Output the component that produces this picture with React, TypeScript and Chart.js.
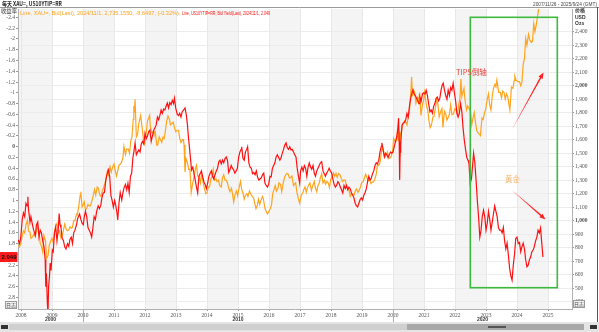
import React, { useEffect, useRef } from 'react';
import { Chart, registerables } from 'chart.js';
Chart.register(...registerables);

// ---- data: [decimal year, value] ----
const tipsSeries: number[][] = [
  [2007.91, 1.73], [2007.95, 1.80], [2007.99, 1.70], [2008.04, 1.35], [2008.08, 1.23], [2008.12, 1.30], [2008.16, 1.05],
  [2008.20, 1.10], [2008.22, 0.93], [2008.24, 1.15], [2008.29, 1.40], [2008.32, 1.30], [2008.37, 1.45], [2008.41, 1.55],
  [2008.46, 1.65], [2008.50, 1.45], [2008.54, 1.40], [2008.58, 1.68], [2008.62, 1.55], [2008.66, 1.60], [2008.70, 1.75],
  [2008.74, 1.85], [2008.78, 2.10], [2008.80, 2.60], [2008.82, 2.35], [2008.85, 2.90], [2008.87, 3.10], [2008.89, 2.60],
  [2008.92, 2.40], [2008.94, 2.16], [2008.97, 2.30], [2009.01, 1.92], [2009.04, 1.95], [2009.08, 1.60], [2009.12, 1.49],
  [2009.16, 1.75], [2009.20, 1.55], [2009.23, 1.24], [2009.26, 1.45], [2009.29, 1.50], [2009.32, 1.68], [2009.37, 1.75],
  [2009.41, 1.86], [2009.45, 1.90], [2009.50, 1.80], [2009.54, 1.85], [2009.58, 1.72], [2009.62, 1.68], [2009.66, 1.80],
  [2009.70, 1.60], [2009.74, 1.55], [2009.79, 1.45], [2009.82, 1.35], [2009.85, 1.30], [2009.89, 1.25], [2009.93, 1.35],
  [2009.97, 1.42], [2010.01, 1.45], [2010.04, 1.30], [2010.08, 1.20], [2010.12, 1.30], [2010.16, 1.50], [2010.20, 1.55],
  [2010.24, 1.60], [2010.28, 1.68], [2010.32, 1.50], [2010.36, 1.30], [2010.40, 1.35], [2010.44, 1.20], [2010.49, 1.10],
  [2010.53, 1.15], [2010.57, 1.10], [2010.61, 0.95], [2010.65, 0.86], [2010.69, 0.85], [2010.74, 0.60], [2010.78, 0.50],
  [2010.82, 0.43], [2010.86, 0.55], [2010.90, 0.90], [2010.94, 1.00], [2010.98, 1.12], [2011.02, 1.00], [2011.06, 1.10],
  [2011.10, 1.25], [2011.12, 1.36], [2011.16, 1.05], [2011.20, 0.85], [2011.25, 0.99], [2011.29, 0.85], [2011.33, 0.75],
  [2011.37, 0.70], [2011.41, 0.80], [2011.45, 0.68], [2011.49, 0.85], [2011.53, 0.55], [2011.57, 0.49], [2011.61, 0.20],
  [2011.64, 0.10], [2011.68, -0.07], [2011.72, 0.15], [2011.76, 0.10], [2011.80, 0.06], [2011.84, 0.10], [2011.88, -0.05],
  [2011.92, -0.10], [2011.96, -0.05], [2012.00, -0.25], [2012.04, -0.15], [2012.08, -0.20], [2012.12, -0.28], [2012.16, -0.31],
  [2012.20, -0.10], [2012.24, -0.20], [2012.28, -0.30], [2012.32, -0.35], [2012.36, -0.40], [2012.40, -0.55], [2012.44, -0.50],
  [2012.48, -0.58], [2012.52, -0.68], [2012.56, -0.62], [2012.60, -0.70], [2012.64, -0.68], [2012.68, -0.75], [2012.72, -0.81],
  [2012.76, -0.72], [2012.80, -0.82], [2012.84, -0.78], [2012.88, -0.86], [2012.92, -0.80], [2012.95, -0.90], [2012.99, -0.72],
  [2013.04, -0.60], [2013.08, -0.58], [2013.12, -0.62], [2013.16, -0.55], [2013.20, -0.65], [2013.24, -0.68], [2013.29, -0.72],
  [2013.33, -0.60], [2013.37, -0.40], [2013.40, -0.18], [2013.44, 0.05], [2013.48, 0.30], [2013.50, 0.43], [2013.54, 0.38],
  [2013.58, 0.50], [2013.62, 0.62], [2013.66, 0.75], [2013.70, 0.86], [2013.74, 0.55], [2013.78, 0.50], [2013.82, 0.45],
  [2013.86, 0.56], [2013.90, 0.65], [2013.94, 0.70], [2013.98, 0.78], [2014.02, 0.68], [2014.06, 0.55], [2014.10, 0.50],
  [2014.14, 0.45], [2014.18, 0.55], [2014.22, 0.60], [2014.26, 0.52], [2014.30, 0.45], [2014.34, 0.40], [2014.38, 0.28],
  [2014.42, 0.25], [2014.46, 0.32], [2014.50, 0.25], [2014.54, 0.30], [2014.58, 0.22], [2014.62, 0.19], [2014.66, 0.25],
  [2014.70, 0.48], [2014.74, 0.43], [2014.78, 0.35], [2014.82, 0.40], [2014.86, 0.43], [2014.90, 0.49], [2014.94, 0.45],
  [2014.98, 0.40], [2015.02, 0.20], [2015.06, 0.10], [2015.10, 0.05], [2015.12, 0.00], [2015.16, 0.22], [2015.20, 0.25],
  [2015.24, 0.10], [2015.28, 0.05], [2015.31, 0.00], [2015.35, 0.30], [2015.39, 0.38], [2015.43, 0.40], [2015.47, 0.50],
  [2015.51, 0.48], [2015.55, 0.52], [2015.59, 0.45], [2015.63, 0.56], [2015.67, 0.62], [2015.71, 0.60], [2015.75, 0.58],
  [2015.79, 0.52], [2015.83, 0.49], [2015.87, 0.68], [2015.91, 0.72], [2015.95, 0.75], [2015.99, 0.70], [2016.03, 0.55],
  [2016.07, 0.56], [2016.11, 0.40], [2016.15, 0.35], [2016.19, 0.30], [2016.23, 0.19], [2016.27, 0.15], [2016.31, 0.20],
  [2016.35, 0.25], [2016.39, 0.20], [2016.43, 0.12], [2016.47, 0.05], [2016.51, -0.03], [2016.55, -0.07], [2016.59, 0.02],
  [2016.63, 0.05], [2016.67, 0.00], [2016.71, 0.06], [2016.75, 0.05], [2016.79, 0.10], [2016.83, 0.15], [2016.87, 0.19],
  [2016.91, 0.40], [2016.95, 0.55], [2016.99, 0.68], [2017.02, 0.45], [2017.06, 0.38], [2017.10, 0.45], [2017.14, 0.35],
  [2017.18, 0.40], [2017.22, 0.55], [2017.26, 0.38], [2017.30, 0.30], [2017.34, 0.38], [2017.38, 0.42], [2017.42, 0.35],
  [2017.46, 0.49], [2017.50, 0.55], [2017.54, 0.45], [2017.58, 0.40], [2017.62, 0.35], [2017.66, 0.30], [2017.70, 0.28],
  [2017.74, 0.45], [2017.78, 0.50], [2017.82, 0.55], [2017.86, 0.49], [2017.90, 0.45], [2017.94, 0.40], [2017.98, 0.45],
  [2018.02, 0.49], [2018.06, 0.60], [2018.10, 0.70], [2018.14, 0.75], [2018.18, 0.72], [2018.22, 0.65], [2018.26, 0.68],
  [2018.30, 0.75], [2018.34, 0.80], [2018.38, 0.86], [2018.42, 0.72], [2018.46, 0.78], [2018.50, 0.72], [2018.54, 0.80],
  [2018.58, 0.75], [2018.62, 0.78], [2018.66, 0.86], [2018.70, 0.90], [2018.74, 0.95], [2018.78, 1.05], [2018.82, 1.10],
  [2018.86, 1.12], [2018.90, 1.05], [2018.94, 0.98], [2018.98, 0.95], [2019.02, 0.99], [2019.06, 0.90], [2019.10, 0.85],
  [2019.14, 0.78], [2019.18, 0.65], [2019.22, 0.55], [2019.26, 0.62], [2019.30, 0.58], [2019.34, 0.50], [2019.38, 0.45],
  [2019.42, 0.35], [2019.46, 0.30], [2019.50, 0.32], [2019.54, 0.25], [2019.58, 0.10], [2019.62, 0.00], [2019.64, -0.07],
  [2019.68, 0.05], [2019.72, 0.19], [2019.76, 0.12], [2019.80, 0.15], [2019.84, 0.20], [2019.88, 0.15], [2019.92, 0.10],
  [2019.96, 0.12], [2020.00, 0.10], [2020.04, 0.00], [2020.08, -0.10], [2020.12, -0.18], [2020.15, -0.30], [2020.18, -0.53],
  [2020.20, -0.10], [2020.215, 0.62], [2020.23, 0.10], [2020.25, -0.07], [2020.29, -0.40], [2020.33, -0.44], [2020.37, -0.45],
  [2020.41, -0.50], [2020.45, -0.62], [2020.49, -0.55], [2020.53, -0.75], [2020.57, -0.90], [2020.61, -1.00], [2020.64, -1.05],
  [2020.68, -0.98], [2020.72, -0.95], [2020.76, -0.90], [2020.80, -0.85], [2020.84, -0.80], [2020.87, -0.92], [2020.91, -0.85],
  [2020.95, -0.98], [2020.99, -1.00], [2021.03, -0.98], [2021.07, -1.05], [2021.11, -0.95], [2021.15, -0.80], [2021.19, -0.65],
  [2021.23, -0.68], [2021.27, -0.62], [2021.31, -0.75], [2021.35, -0.80], [2021.39, -0.90], [2021.43, -0.92], [2021.47, -0.85],
  [2021.51, -0.90], [2021.55, -1.05], [2021.59, -1.15], [2021.62, -1.18], [2021.66, -1.05], [2021.70, -0.95], [2021.74, -0.88],
  [2021.78, -1.05], [2021.82, -0.95], [2021.86, -1.10], [2021.90, -1.05], [2021.94, -1.18], [2021.98, -1.00], [2022.02, -0.85],
  [2022.06, -0.62], [2022.10, -0.55], [2022.14, -0.62], [2022.18, -0.80], [2022.22, -0.65], [2022.26, -0.35], [2022.30, -0.12],
  [2022.34, 0.05], [2022.38, 0.20], [2022.42, 0.25], [2022.45, 0.31], [2022.49, 0.68], [2022.53, 0.60], [2022.56, 0.40],
  [2022.60, 0.12], [2022.64, 0.30], [2022.68, 0.62], [2022.72, 1.00], [2022.76, 1.30], [2022.80, 1.68], [2022.84, 1.55],
  [2022.88, 1.30], [2022.92, 1.18], [2022.96, 1.30], [2023.00, 1.55], [2023.04, 1.42], [2023.08, 1.20], [2023.12, 1.35],
  [2023.16, 1.55], [2023.20, 1.40], [2023.24, 1.25], [2023.28, 1.10], [2023.32, 1.20], [2023.36, 1.30], [2023.40, 1.50],
  [2023.44, 1.55], [2023.48, 1.55], [2023.52, 1.60], [2023.56, 1.50], [2023.60, 1.75], [2023.64, 1.90], [2023.68, 1.79],
  [2023.72, 2.00], [2023.76, 2.25], [2023.80, 2.40], [2023.84, 2.48], [2023.88, 2.20], [2023.92, 2.00], [2023.96, 1.70],
  [2024.00, 1.68], [2024.04, 1.80], [2024.08, 1.78], [2024.12, 1.95], [2024.16, 1.85], [2024.20, 1.79], [2024.24, 1.90],
  [2024.28, 2.10], [2024.32, 2.23], [2024.36, 2.20], [2024.40, 2.10], [2024.44, 2.05], [2024.48, 1.95], [2024.52, 1.92],
  [2024.56, 1.85], [2024.60, 1.75], [2024.64, 1.68], [2024.68, 1.55], [2024.72, 1.60], [2024.76, 1.51], [2024.80, 1.80],
  [2024.836, 2.049],
];
const goldSeries: number[][] = [
  [2007.90, 820], [2007.95, 805], [2008.00, 840], [2008.04, 890], [2008.08, 925], [2008.12, 910], [2008.16, 970],
  [2008.21, 1005], [2008.24, 925], [2008.29, 915], [2008.32, 870], [2008.37, 880], [2008.41, 900], [2008.46, 885],
  [2008.50, 930], [2008.54, 965], [2008.58, 915], [2008.62, 830], [2008.66, 810], [2008.70, 770], [2008.74, 890],
  [2008.79, 850], [2008.82, 720], [2008.87, 740], [2008.91, 815], [2008.96, 850], [2009.00, 870], [2009.04, 840],
  [2009.08, 920], [2009.12, 960], [2009.16, 980], [2009.20, 910], [2009.24, 925], [2009.29, 870], [2009.33, 890],
  [2009.37, 930], [2009.41, 975], [2009.46, 935], [2009.50, 925], [2009.54, 930], [2009.58, 955], [2009.62, 945],
  [2009.66, 950], [2009.70, 1000], [2009.74, 1000], [2009.79, 1050], [2009.82, 1045], [2009.87, 1120], [2009.91, 1190],
  [2009.93, 1215], [2009.97, 1100], [2010.04, 1140], [2010.08, 1080], [2010.12, 1090], [2010.16, 1120], [2010.20, 1110],
  [2010.24, 1110], [2010.29, 1150], [2010.32, 1175], [2010.37, 1230], [2010.41, 1190], [2010.46, 1250], [2010.50, 1240],
  [2010.54, 1190], [2010.58, 1180], [2010.62, 1220], [2010.66, 1245], [2010.70, 1270], [2010.74, 1305], [2010.79, 1370],
  [2010.82, 1340], [2010.87, 1400], [2010.91, 1360], [2010.96, 1400], [2011.00, 1420], [2011.04, 1370], [2011.08, 1330],
  [2011.12, 1370], [2011.16, 1410], [2011.20, 1420], [2011.24, 1430], [2011.29, 1470], [2011.32, 1550], [2011.37, 1490],
  [2011.41, 1530], [2011.46, 1530], [2011.50, 1500], [2011.54, 1590], [2011.58, 1620], [2011.62, 1750], [2011.64, 1850],
  [2011.66, 1800], [2011.68, 1900], [2011.72, 1620], [2011.76, 1640], [2011.80, 1720], [2011.86, 1780], [2011.90, 1700],
  [2011.95, 1600], [2011.99, 1570], [2012.04, 1650], [2012.08, 1740], [2012.12, 1760], [2012.15, 1780], [2012.17, 1700],
  [2012.22, 1650], [2012.26, 1660], [2012.29, 1640], [2012.33, 1660], [2012.38, 1560], [2012.41, 1560], [2012.46, 1620],
  [2012.50, 1600], [2012.54, 1580], [2012.58, 1620], [2012.62, 1610], [2012.66, 1670], [2012.70, 1740], [2012.74, 1775],
  [2012.79, 1750], [2012.82, 1710], [2012.87, 1720], [2012.91, 1730], [2012.95, 1690], [2012.99, 1660], [2013.04, 1670],
  [2013.08, 1670], [2013.12, 1610], [2013.16, 1580], [2013.21, 1600], [2013.24, 1600], [2013.26, 1560], [2013.29, 1360],
  [2013.32, 1460], [2013.37, 1430], [2013.41, 1380], [2013.45, 1380], [2013.49, 1210], [2013.54, 1280], [2013.58, 1320],
  [2013.62, 1380], [2013.66, 1410], [2013.70, 1330], [2013.74, 1330], [2013.79, 1280], [2013.82, 1350], [2013.87, 1290],
  [2013.91, 1245], [2013.96, 1200], [2014.00, 1205], [2014.04, 1250], [2014.08, 1250], [2014.12, 1300], [2014.16, 1330],
  [2014.20, 1380], [2014.24, 1300], [2014.29, 1310], [2014.32, 1290], [2014.37, 1300], [2014.41, 1260], [2014.46, 1250],
  [2014.50, 1320], [2014.54, 1340], [2014.58, 1300], [2014.62, 1300], [2014.66, 1280], [2014.70, 1240], [2014.74, 1215],
  [2014.79, 1240], [2014.82, 1200], [2014.86, 1140], [2014.90, 1190], [2014.95, 1220], [2014.99, 1185], [2015.04, 1250],
  [2015.08, 1290], [2015.12, 1230], [2015.16, 1205], [2015.20, 1160], [2015.24, 1190], [2015.29, 1200], [2015.32, 1180],
  [2015.37, 1220], [2015.41, 1200], [2015.46, 1180], [2015.50, 1170], [2015.54, 1130], [2015.58, 1090], [2015.62, 1110],
  [2015.66, 1160], [2015.70, 1120], [2015.74, 1150], [2015.79, 1180], [2015.82, 1160], [2015.87, 1090], [2015.91, 1070],
  [2015.95, 1050], [2015.99, 1065], [2016.04, 1090], [2016.08, 1115], [2016.12, 1200], [2016.16, 1230], [2016.20, 1260],
  [2016.24, 1220], [2016.29, 1240], [2016.32, 1280], [2016.37, 1270], [2016.41, 1215], [2016.46, 1280], [2016.50, 1320],
  [2016.54, 1340], [2016.58, 1350], [2016.62, 1345], [2016.66, 1315], [2016.70, 1320], [2016.74, 1330], [2016.79, 1260],
  [2016.82, 1270], [2016.86, 1280], [2016.90, 1210], [2016.95, 1160], [2016.99, 1130], [2017.04, 1190], [2017.08, 1200],
  [2017.12, 1230], [2017.16, 1250], [2017.20, 1210], [2017.24, 1245], [2017.29, 1270], [2017.32, 1280], [2017.37, 1225],
  [2017.41, 1260], [2017.46, 1290], [2017.50, 1240], [2017.54, 1215], [2017.58, 1260], [2017.62, 1280], [2017.66, 1320],
  [2017.70, 1350], [2017.74, 1280], [2017.79, 1300], [2017.82, 1270], [2017.87, 1290], [2017.91, 1280], [2017.95, 1245],
  [2017.99, 1305], [2018.04, 1330], [2018.08, 1355], [2018.12, 1330], [2018.16, 1350], [2018.20, 1320], [2018.24, 1350],
  [2018.29, 1340], [2018.32, 1320], [2018.37, 1290], [2018.41, 1300], [2018.46, 1300], [2018.50, 1250], [2018.54, 1240],
  [2018.58, 1225], [2018.62, 1180], [2018.66, 1200], [2018.70, 1195], [2018.74, 1190], [2018.79, 1225], [2018.82, 1235],
  [2018.87, 1210], [2018.91, 1225], [2018.95, 1250], [2018.99, 1282], [2019.04, 1290], [2019.08, 1320], [2019.12, 1345],
  [2019.16, 1320], [2019.20, 1295], [2019.24, 1310], [2019.29, 1275], [2019.32, 1285], [2019.37, 1285], [2019.41, 1305],
  [2019.46, 1345], [2019.50, 1420], [2019.54, 1410], [2019.58, 1430], [2019.62, 1500], [2019.66, 1540], [2019.70, 1510],
  [2019.74, 1470], [2019.79, 1490], [2019.82, 1510], [2019.87, 1460], [2019.91, 1465], [2019.95, 1480], [2019.99, 1520],
  [2020.02, 1610], [2020.08, 1580], [2020.12, 1600], [2020.15, 1680], [2020.17, 1590], [2020.20, 1660], [2020.22, 1475],
  [2020.24, 1620], [2020.29, 1690], [2020.32, 1710], [2020.37, 1740], [2020.41, 1730], [2020.45, 1710], [2020.49, 1770],
  [2020.53, 1810], [2020.58, 1970], [2020.60, 2065], [2020.63, 1920], [2020.66, 1970], [2020.70, 1950], [2020.74, 1870],
  [2020.79, 1910], [2020.82, 1880], [2020.86, 1950], [2020.90, 1780], [2020.95, 1860], [2020.99, 1895], [2021.02, 1950],
  [2021.08, 1850], [2021.12, 1820], [2021.16, 1740], [2021.20, 1690], [2021.24, 1710], [2021.29, 1770], [2021.32, 1770],
  [2021.37, 1840], [2021.41, 1900], [2021.45, 1860], [2021.49, 1770], [2021.54, 1810], [2021.58, 1830], [2021.61, 1690],
  [2021.66, 1810], [2021.70, 1790], [2021.74, 1745], [2021.79, 1770], [2021.82, 1790], [2021.86, 1860], [2021.90, 1785],
  [2021.95, 1790], [2021.99, 1829], [2022.04, 1820], [2022.08, 1790], [2022.12, 1860], [2022.16, 1910], [2022.19, 2050],
  [2022.22, 1920], [2022.24, 1940], [2022.29, 1980], [2022.32, 1900], [2022.37, 1820], [2022.41, 1850], [2022.46, 1830],
  [2022.50, 1810], [2022.54, 1710], [2022.58, 1760], [2022.62, 1800], [2022.66, 1730], [2022.70, 1670], [2022.74, 1650],
  [2022.79, 1640], [2022.82, 1630], [2022.87, 1760], [2022.91, 1750], [2022.95, 1800], [2022.99, 1824], [2023.04, 1900],
  [2023.08, 1940], [2023.12, 1860], [2023.16, 1820], [2023.20, 1920], [2023.24, 1980], [2023.29, 2010], [2023.32, 1990],
  [2023.35, 2040], [2023.41, 1950], [2023.46, 1950], [2023.50, 1910], [2023.54, 1960], [2023.58, 1950], [2023.62, 1900],
  [2023.66, 1940], [2023.70, 1920], [2023.74, 1860], [2023.77, 1820], [2023.82, 1990], [2023.87, 1980], [2023.91, 2040],
  [2023.93, 2070], [2023.97, 2040], [2024.04, 2030], [2024.08, 2030], [2024.12, 2000], [2024.16, 2030], [2024.20, 2160],
  [2024.24, 2200], [2024.28, 2350], [2024.32, 2300], [2024.37, 2380], [2024.41, 2340], [2024.46, 2320], [2024.50, 2330],
  [2024.54, 2460], [2024.58, 2400], [2024.62, 2450], [2024.66, 2510], [2024.70, 2570], [2024.74, 2650], [2024.79, 2690],
  [2024.82, 2740], [2024.836, 2735.155],
];
const yearTicks = [2008, 2009, 2010, 2011, 2012, 2013, 2014, 2015, 2016, 2017, 2018, 2019, 2020, 2021, 2022, 2023, 2024, 2025];
const shadedYears = [2007, 2008, 2010, 2012, 2014, 2016, 2018, 2020, 2022, 2024];
const decades = [2000, 2010, 2020];
const leftTicks = [-2.4, -2.2, -2, -1.8, -1.6, -1.4, -1.2, -1, -0.8, -0.6, -0.4, -0.2, 0, 0.2, 0.4, 0.6, 0.8, 1, 1.2, 1.4, 1.6, 1.8, 2, 2.2, 2.4, 2.6, 2.8];
const rightTicks = [400, 500, 600, 700, 800, 900, 1000, 1100, 1200, 1300, 1400, 1500, 1600, 1700, 1800, 1900, 2000, 2100, 2200, 2300, 2400];

const title = '每天 XAU=, US10YTIP=RR';
const goldLegend = 'Line, XAU=, Bid(Last), 2024/11/1, 2,735.1550, -8.6497, (-0.32%), ';
const tipsLegend = 'Line, US10YTIP=RR, Bid Yield(Last), 2024/11/1, 2.049';
const rangeText = '2007/11/26 - 2025/9/24 (GMT)';

const RED = '#ff1010';
const ORANGE = '#ffa41c';
const SERIF = '"Liberation Serif", "DejaVu Serif", serif';
const SANS = '"Liberation Sans", "Noto Sans CJK SC", sans-serif';
const CJK = '"Noto Sans CJK SC", sans-serif';

function arrow(ctx: CanvasRenderingContext2D, x0: number, y0: number, x1: number, y1: number, color: string) {
  const ang = Math.atan2(y1 - y0, x1 - x0);
  const c = Math.cos(ang), s = Math.sin(ang);
  ctx.fillStyle = color;
  ctx.beginPath();
  ctx.moveTo(x0, y0);
  ctx.lineTo(x1 - 5 * c + 0.8 * s, y1 - 5 * s - 0.8 * c);
  ctx.lineTo(x1 - 5 * c - 0.8 * s, y1 - 5 * s + 0.8 * c);
  ctx.closePath();
  ctx.fill();
  ctx.beginPath();
  ctx.moveTo(x1, y1);
  ctx.lineTo(x1 - 6 * c + 2.4 * s, y1 - 6 * s - 2.4 * c);
  ctx.lineTo(x1 - 6 * c - 2.4 * s, y1 - 6 * s + 2.4 * c);
  ctx.closePath();
  ctx.fill();
}

const decor = {
  id: 'decor',
  beforeDraw(chart: any) {
    const { ctx, chartArea: a, scales } = chart;
    const xs = scales.x;
    ctx.save();
    ctx.fillStyle = '#ffffff';
    ctx.fillRect(0, 0, chart.width, chart.height);
    for (const y of shadedYears) {
      const x0 = Math.max(a.left, xs.getPixelForValue(y));
      const x1 = Math.min(a.right, xs.getPixelForValue(y + 1));
      if (x1 > x0) {
        ctx.fillStyle = '#f4f4f4';
        ctx.fillRect(x0, a.top, x1 - x0, a.bottom - a.top);
      }
    }
    ctx.strokeStyle = '#e8e8e8';
    ctx.lineWidth = 1;
    for (const y of yearTicks) {
      const px = Math.round(xs.getPixelForValue(y)) + 0.5;
      ctx.beginPath();
      ctx.moveTo(px, a.top);
      ctx.lineTo(px, a.bottom);
      ctx.stroke();
    }
    ctx.restore();
  },
  afterDraw(chart: any) {
    const { ctx, chartArea: a, scales } = chart;
    const xs = scales.x;
    const yl = scales.yL;
    ctx.save();
    ctx.strokeStyle = '#9a9a9a';
    ctx.lineWidth = 1;
    ctx.beginPath();
    ctx.moveTo(0, 7.5); ctx.lineTo(599, 7.5);
    ctx.stroke();
    ctx.strokeStyle = '#555';
    ctx.beginPath();
    ctx.moveTo(597.5, 7); ctx.lineTo(597.5, 322);
    ctx.stroke();

    ctx.fillStyle = '#222';
    ctx.textBaseline = 'middle';
    ctx.textAlign = 'left';
    ctx.font = `bold 6px ${CJK}`;
    ctx.fillText(title, 2, 3.5, 60);
    ctx.font = `5px ${SANS}`;
    ctx.fillStyle = '#444';
    ctx.textAlign = 'right';
    ctx.fillText(rangeText, 597, 4.5, 64);

    ctx.textAlign = 'left';
    ctx.font = `6px ${SANS}`;
    ctx.fillStyle = ORANGE;
    ctx.fillText(goldLegend, 20, 13, 162);
    ctx.fillStyle = RED;
    ctx.fillText(tipsLegend, 182, 13, 88);

    ctx.fillStyle = '#333';
    ctx.font = `6px ${CJK}`;
    ctx.fillText('收益率', 1, 10.5, 16);
    ctx.font = `bold 5px ${SANS}`;
    ctx.fillText('价格', 575, 10.5);
    ctx.fillText('USD', 575, 17.5);
    ctx.fillText('Ozs', 575, 24);

    ctx.strokeStyle = '#3dba3d';
    ctx.lineWidth = 1.6;
    ctx.strokeRect(470.3, 17.3, 87, 270.4);

    arrow(ctx, 511.7, 130, 543.5, 72.5, '#ff2020');
    arrow(ctx, 511.7, 190, 545.5, 219.5, '#ff2020');

    ctx.font = `7.5px ${CJK}`;
    ctx.fillStyle = '#e8453c';
    ctx.textAlign = 'left';
    ctx.fillText('TIPS倒轴', 456, 72, 35);
    ctx.fillStyle = '#f6b66e';
    ctx.fillText('黄金', 505, 179.5);

    const last = tipsSeries[tipsSeries.length - 1][1];
    const py = yl.getPixelForValue(last);
    ctx.fillStyle = '#ff1a1a';
    ctx.fillRect(0, py - 5, 17.5, 10);
    ctx.fillStyle = '#111';
    ctx.font = `bold 6px ${SANS}`;
    ctx.textAlign = 'center';
    ctx.fillText(last.toFixed(3), 9, py + 0.5, 17);

    const btn = (x: number, y: number) => {
      ctx.fillStyle = '#f2f2f2';
      ctx.fillRect(x, y, 12, 8);
      ctx.strokeStyle = '#9a9a9a';
      ctx.lineWidth = 1;
      ctx.strokeRect(x + 0.5, y + 0.5, 11, 7);
      ctx.fillStyle = '#444';
      ctx.font = `5px ${CJK}`;
      ctx.textAlign = 'center';
      ctx.fillText('日志', x + 6, y + 4.3, 10);
    };
    btn(5, 301);
    btn(573, 300);

    ctx.strokeStyle = '#aaa';
    ctx.lineWidth = 1;
    for (const d of decades) {
      if (d > xs.min && d < xs.max) {
        const px = Math.round(xs.getPixelForValue(d)) + 0.5;
        ctx.beginPath();
        ctx.moveTo(px, a.bottom + 1);
        ctx.lineTo(px, a.bottom + 13);
        ctx.stroke();
      }
      const c = (Math.max(xs.min, d) + Math.min(xs.max, d + 10)) / 2;
      ctx.fillStyle = '#333';
      ctx.font = `bold 5px ${SANS}`;
      ctx.textAlign = 'center';
      ctx.fillText(String(d), xs.getPixelForValue(c), 320);
    }

    ctx.fillStyle = '#e4e4e4';
    ctx.fillRect(0, 322, 599, 10);
    ctx.fillStyle = '#cfcfcf';
    ctx.fillRect(9, 324, 398, 6);
    ctx.fillStyle = '#a8a8a8';
    ctx.fillRect(407, 324, 177, 6);
    ctx.fillStyle = '#333';
    ctx.fillRect(1, 325, 7, 4);
    ctx.fillRect(590, 325, 7, 4);
    ctx.fillStyle = '#555';
    ctx.fillRect(488, 326, 18, 2);
    ctx.restore();
  },
};

export default function App() {
  const ref = useRef<HTMLCanvasElement>(null);
  useEffect(() => {
    document.body.style.margin = '0';
    const tickFont = (bold: (v: number) => boolean) => (c: any) => ({
      family: SERIF,
      size: 5.5,
      weight: c.tick && bold(c.tick.value) ? 'bold' : 'normal',
    });
    const chart = new Chart(ref.current!, {
      type: 'line',
      data: {
        datasets: [
          {
            label: 'US10YTIP=RR',
            data: tipsSeries.map(([t, v]) => ({ x: t, y: v })),
            yAxisID: 'yL',
            borderColor: RED,
            borderWidth: 1.2,
            pointRadius: 0,
            tension: 0,
          },
          {
            label: 'XAU=',
            data: goldSeries.map(([t, v]) => ({ x: t, y: v })),
            yAxisID: 'yR',
            borderColor: ORANGE,
            borderWidth: 1.2,
            pointRadius: 0,
            tension: 0,
          },
        ],
      },
      options: {
        responsive: false,
        animation: false,
        events: [],
        layout: { padding: { top: 9, left: 0, right: 0, bottom: 0 } },
        plugins: { legend: { display: false }, tooltip: { enabled: false } },
        scales: {
          x: {
            type: 'linear',
            position: 'bottom',
            min: 2007.903,
            max: 2025.774,
            afterBuildTicks: (s: any) => { s.ticks = yearTicks.map((v) => ({ value: v })); },
            afterFit: (s: any) => { s.height = 23; },
            grid: { display: true, drawOnChartArea: false, tickLength: 2, color: '#999' },
            border: { color: '#b0b0b0' },
            ticks: {
              autoSkip: false,
              maxRotation: 0,
              padding: 1,
              color: '#555',
              font: { family: SERIF, size: 5.5 },
              callback: (v: any) => String(v),
            },
          },
          yL: {
            type: 'linear',
            position: 'left',
            reverse: true,
            min: -2.557,
            max: 3.014,
            afterBuildTicks: (s: any) => { s.ticks = leftTicks.map((v) => ({ value: v })); },
            afterFit: (s: any) => { s.width = 18; },
            grid: { drawOnChartArea: false, tickLength: 2, color: '#999' },
            border: { color: '#b0b0b0' },
            ticks: {
              padding: 1,
              color: '#555',
              font: tickFont((v) => v === 0) as any,
              callback: (v: any) => String(Number(Number(v).toFixed(1))),
            },
          },
          yR: {
            type: 'linear',
            position: 'right',
            min: 346,
            max: 2568,
            afterBuildTicks: (s: any) => { s.ticks = rightTicks.map((v) => ({ value: v })); },
            afterFit: (s: any) => { s.width = 27; },
            grid: { drawOnChartArea: true, tickLength: 2, color: '#ececec', tickColor: '#999' },
            border: { color: '#b0b0b0' },
            ticks: {
              padding: 1,
              color: '#555',
              font: tickFont((v) => v === 1000 || v === 2000) as any,
              callback: (v: any) => Number(v).toLocaleString('en-US'),
            },
          },
        },
      },
      plugins: [decor],
    } as any);
    return () => chart.destroy();
  }, []);
  return (
    <div style={{ width: 599, height: 332 }}>
      <canvas ref={ref} width={599} height={332} style={{ display: 'block', width: 599, height: 332 }} />
    </div>
  );
}
